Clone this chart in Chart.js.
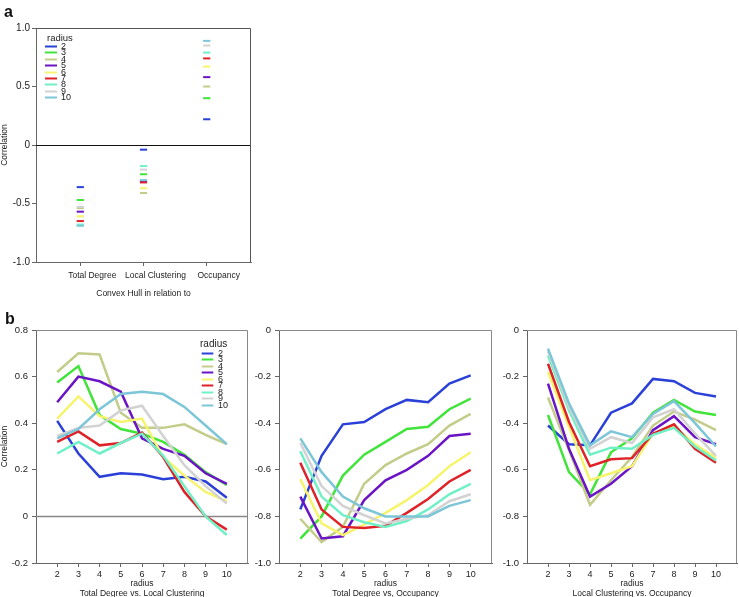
<!DOCTYPE html>
<html>
<head>
<meta charset="utf-8">
<script src="https://cdn.jsdelivr.net/npm/chart.js@4.4.1/dist/chart.umd.min.js"></script>
<style>
  html, body { margin: 0; padding: 0; background: #fff; }
  #fig { position: relative; width: 739px; height: 597px; overflow: hidden; font-family: "Liberation Sans", Arial, sans-serif; }
  .panel { position: absolute; }
  .tag { position: absolute; font-weight: bold; font-size: 16px; line-height: 1; color: #111; }
</style>
</head>
<body>
<div id="fig">
  <div class="panel" style="left:0;top:0;width:260px;height:300px"><canvas id="ch-a"></canvas></div>
  <div class="panel" style="left:0;top:300px;width:250px;height:297px"><canvas id="ch-b1"></canvas></div>
  <div class="panel" style="left:250px;top:300px;width:245px;height:297px"><canvas id="ch-b2"></canvas></div>
  <div class="panel" style="left:495px;top:300px;width:244px;height:297px"><canvas id="ch-b3"></canvas></div>
  <div class="tag" style="left:4px;top:4px">a</div>
  <div class="tag" style="left:5px;top:311px">b</div>
</div>
<script>
// ── data ─────────────────────────────────────────────────────────────────────
const radii = [2, 3, 4, 5, 6, 7, 8, 9, 10];
const radiusColors = ['#2a40d8', '#40e43a', '#c4cc8a', '#6a14c6', '#f6f46c', '#de2228', '#70f0c6', '#d2d2d2', '#7cc6d8'];

// panel a: convex hull correlation, one value per radius
const hullCategories = ['Total Degree', 'Local Clustering', 'Occupancy'];
const hullTotalDegree     = [-0.36, -0.47, -0.54, -0.57, -0.61, -0.65, -0.68, -0.53, -0.69];
const hullLocalClustering = [-0.04, -0.25, -0.41, -0.31, -0.37, -0.32, -0.18, -0.21, -0.30];
const hullOccupancy       = [0.22, 0.40, 0.50, 0.58, 0.67, 0.74, 0.79, 0.85, 0.89];

// panel b: x = radius 2..10, one row per radius series (2..10)
const xRadius = [2, 3, 4, 5, 6, 7, 8, 9, 10];
const tdVsLc = [
  [0.41, 0.27, 0.17, 0.185, 0.18, 0.16, 0.17, 0.15, 0.08],
  [0.575, 0.645, 0.435, 0.375, 0.355, 0.32, 0.265, 0.19, 0.135],
  [0.62, 0.70, 0.695, 0.445, 0.38, 0.38, 0.395, 0.35, 0.31],
  [0.49, 0.60, 0.58, 0.535, 0.335, 0.29, 0.26, 0.185, 0.14],
  [0.42, 0.515, 0.43, 0.405, 0.42, 0.255, 0.175, 0.105, 0.065],
  [0.32, 0.365, 0.305, 0.315, 0.36, 0.255, 0.105, 0.0, -0.057],
  [0.27, 0.32, 0.27, 0.315, 0.355, 0.26, 0.13, 0.0, -0.08],
  [0.345, 0.38, 0.39, 0.455, 0.475, 0.345, 0.22, 0.13, 0.055],
  [0.335, 0.375, 0.46, 0.525, 0.535, 0.525, 0.47, 0.39, 0.31]
];
const tdVsOcc = [
  [-0.77, -0.54, -0.405, -0.395, -0.34, -0.30, -0.31, -0.23, -0.195],
  [-0.895, -0.80, -0.625, -0.535, -0.48, -0.425, -0.415, -0.34, -0.295],
  [-0.81, -0.91, -0.845, -0.66, -0.58, -0.53, -0.49, -0.41, -0.36],
  [-0.715, -0.895, -0.885, -0.73, -0.645, -0.60, -0.54, -0.455, -0.445],
  [-0.64, -0.83, -0.88, -0.835, -0.785, -0.73, -0.665, -0.585, -0.525],
  [-0.57, -0.77, -0.845, -0.85, -0.84, -0.785, -0.725, -0.65, -0.60],
  [-0.52, -0.715, -0.795, -0.825, -0.845, -0.82, -0.77, -0.705, -0.66],
  [-0.485, -0.67, -0.755, -0.795, -0.83, -0.81, -0.795, -0.735, -0.705],
  [-0.465, -0.61, -0.715, -0.765, -0.80, -0.80, -0.80, -0.755, -0.73]
];
const lcVsOcc = [
  [-0.41, -0.49, -0.495, -0.355, -0.315, -0.21, -0.22, -0.27, -0.285],
  [-0.365, -0.61, -0.705, -0.525, -0.465, -0.355, -0.30, -0.35, -0.365],
  [-0.29, -0.515, -0.75, -0.645, -0.545, -0.41, -0.35, -0.385, -0.43],
  [-0.23, -0.51, -0.715, -0.66, -0.585, -0.43, -0.37, -0.46, -0.49],
  [-0.18, -0.415, -0.645, -0.615, -0.585, -0.445, -0.415, -0.49, -0.55],
  [-0.145, -0.395, -0.585, -0.555, -0.55, -0.445, -0.405, -0.51, -0.57],
  [-0.11, -0.345, -0.535, -0.505, -0.51, -0.45, -0.42, -0.50, -0.56],
  [-0.09, -0.33, -0.51, -0.46, -0.485, -0.375, -0.34, -0.445, -0.54],
  [-0.08, -0.315, -0.495, -0.435, -0.46, -0.36, -0.305, -0.40, -0.50]
];

// ── shared bits ──────────────────────────────────────────────────────────────
const FONT = '"Liberation Sans", Arial, Helvetica, sans-serif';
Chart.defaults.font.family = FONT;
Chart.defaults.color = '#222';
Chart.defaults.animation = false;

const AXIS = '#666';

// box top/right edges + optional zero line
const framePlugin = {
  id: 'frame',
  beforeDatasetsDraw(chart, args, o) {
    if (!o.zero) return;
    const { ctx, chartArea: a, scales } = chart;
    const y = Math.round(scales.y.getPixelForValue(0)) + 0.5;
    ctx.save();
    ctx.strokeStyle = o.zeroColor;
    ctx.lineWidth = o.zeroWidth;
    ctx.beginPath(); ctx.moveTo(a.left, y); ctx.lineTo(a.right, y); ctx.stroke();
    ctx.restore();
  },
  afterDraw(chart, args, o) {
    const { ctx, chartArea: a } = chart;
    ctx.save();
    ctx.strokeStyle = o.color;
    ctx.lineWidth = 1;
    ctx.beginPath();
    ctx.moveTo(a.left, a.top + 0.5);
    ctx.lineTo(a.right - 0.5, a.top + 0.5);
    ctx.lineTo(a.right - 0.5, a.bottom);
    ctx.stroke();
    ctx.restore();
  }
};

// tight "radius" key drawn inside the plot
const radiusLegend = {
  id: 'radiusLegend',
  afterDatasetsDraw(chart, args, o) {
    if (!o.show) return;
    const { ctx, chartArea: a } = chart;
    const x0 = a.left + o.x, y0 = a.top + o.y;
    ctx.save();
    ctx.textBaseline = 'middle';
    ctx.fillStyle = '#222';
    ctx.font = o.titleSize + 'px ' + FONT;
    ctx.fillText('radius', x0 + o.titleDx, y0);
    ctx.font = o.size + 'px ' + FONT;
    chart.data.datasets.forEach(function(ds, i) {
      const yy = Math.round(y0 + o.first + i * o.step) + 0.5;
      ctx.strokeStyle = ds.borderColor;
      ctx.lineWidth = 2;
      ctx.beginPath(); ctx.moveTo(x0, yy); ctx.lineTo(x0 + o.len, yy); ctx.stroke();
      ctx.fillText(ds.label, x0 + o.textDx, yy);
    });
    ctx.restore();
  }
};

function yTickLabel(v) {
  if (Math.abs(v) < 1e-9) return '0';
  return v.toFixed(1);
}

// ── panel a ──────────────────────────────────────────────────────────────────
const hullSeries = [hullTotalDegree, hullLocalClustering, hullOccupancy];
new Chart(document.getElementById('ch-a'), {
  type: 'scatter',
  data: {
    datasets: radii.map(function(r, i) {
      return {
        label: String(r),
        data: hullCategories.map(function(c, k) { return { x: k + 1, y: hullSeries[k][i] }; }),
        showLine: false,
        pointStyle: 'line',
        pointRadius: 3.6,
        pointHoverRadius: 3.6,
        pointBorderWidth: 2,
        borderColor: radiusColors[i],
        backgroundColor: radiusColors[i],
        order: -r
      };
    })
  },
  options: {
    responsive: true,
    maintainAspectRatio: false,
    layout: { padding: { top: 28, right: 9, left: 0, bottom: 0 } },
    plugins: {
      legend: { display: false },
      tooltip: { enabled: false },
      frame: { color: '#555', zero: true, zeroColor: '#111', zeroWidth: 1 },
      radiusLegend: { show: true, x: 9, y: 10, titleDx: 2, titleSize: 9.5, size: 9, first: 7.7, step: 6.45, len: 12, textDx: 16 }
    },
    scales: {
      x: {
        type: 'linear', min: 0.3, max: 3.7,
        afterFit: function(s) { s.height = 38; },
        afterBuildTicks: function(s) { s.ticks = hullCategories.map(function(c, k) { return { value: k + 1 }; }); },
        ticks: {
          callback: function(v) { return hullCategories[v - 1]; },
          font: { size: 8.5 }, padding: 5, labelOffset: 12, maxRotation: 0, autoSkip: false
        },
        grid: { drawOnChartArea: false, drawTicks: true, tickLength: 4, color: AXIS },
        border: { color: AXIS },
        title: { display: true, text: 'Convex Hull in relation to', font: { size: 8.5, lineHeight: 1 }, padding: { top: 0, bottom: 2 } }
      },
      y: {
        min: -1, max: 1,
        afterFit: function(s) { s.width = 36; },
        ticks: { stepSize: 0.5, callback: yTickLabel, font: { size: 10 }, padding: 2 },
        grid: { drawOnChartArea: false, drawTicks: true, tickLength: 4, color: AXIS },
        border: { color: AXIS },
        title: { display: true, text: 'Correlation', font: { size: 8.5, lineHeight: 1 }, padding: { top: 0, bottom: 0 } }
      }
    }
  },
  plugins: [framePlugin, radiusLegend]
});

// ── panel b ──────────────────────────────────────────────────────────────────
function makeRadiusChart(id, rows, cfg) {
  new Chart(document.getElementById(id), {
    type: 'line',
    data: {
      datasets: rows.map(function(row, i) {
        return {
          label: String(radii[i]),
          data: xRadius.map(function(x, k) { return { x: x, y: row[k] }; }),
          borderColor: radiusColors[i],
          backgroundColor: radiusColors[i],
          borderWidth: 2.5,
          pointRadius: 0,
          tension: 0,
          order: -radii[i]
        };
      })
    },
    options: {
      responsive: true,
      maintainAspectRatio: false,
      layout: { padding: { top: 30, right: cfg.padRight, left: 0, bottom: 0 } },
      plugins: {
        legend: { display: false },
        tooltip: { enabled: false },
        frame: { color: '#888', zero: cfg.zero, zeroColor: '#888', zeroWidth: 1.5 },
        radiusLegend: cfg.legend || { show: false }
      },
      scales: {
        x: {
          type: 'linear', min: 1, max: 11,
          afterFit: function(s) { s.height = 34; },
          afterBuildTicks: function(s) { s.ticks = xRadius.map(function(v) { return { value: v }; }); },
          ticks: { font: { size: 9 }, padding: 2, maxRotation: 0, autoSkip: false },
          grid: { drawOnChartArea: false, drawTicks: true, tickLength: 4, color: AXIS },
          border: { color: AXIS },
          title: { display: true, text: ['radius', cfg.title], font: { size: 8.5, lineHeight: 10 / 8.5 }, padding: { top: 0, bottom: -2 } }
        },
        y: {
          min: cfg.min, max: cfg.max,
          afterFit: function(s) { s.width = cfg.yWidth; },
          ticks: { stepSize: 0.2, callback: yTickLabel, font: { size: 9.5 }, padding: 4 },
          grid: { drawOnChartArea: false, drawTicks: true, tickLength: 4, color: AXIS },
          border: { color: AXIS },
          title: { display: !!cfg.yTitle, text: cfg.yTitle || '', font: { size: 8.5, lineHeight: 1 }, padding: { top: 0, bottom: 0 } }
        }
      }
    },
    plugins: [framePlugin, radiusLegend]
  });
}

makeRadiusChart('ch-b1', tdVsLc, {
  title: 'Total Degree vs. Local Clustering', min: -0.2, max: 0.8, yWidth: 36, padRight: 2, zero: true, yTitle: 'Correlation',
  legend: { show: true, x: 165.7, y: 14, titleDx: -1.7, titleSize: 10, size: 9, first: 8.7, step: 6.5, len: 11.6, textDx: 16.3 }
});
makeRadiusChart('ch-b2', tdVsOcc, {
  title: 'Total Degree vs, Occupancy', min: -1, max: 0, yWidth: 29, padRight: 3, zero: false
});
makeRadiusChart('ch-b3', lcVsOcc, {
  title: 'Local Clustering vs. Occupancy', min: -1, max: 0, yWidth: 32, padRight: 2, zero: false
});
</script>
</body>
</html>
